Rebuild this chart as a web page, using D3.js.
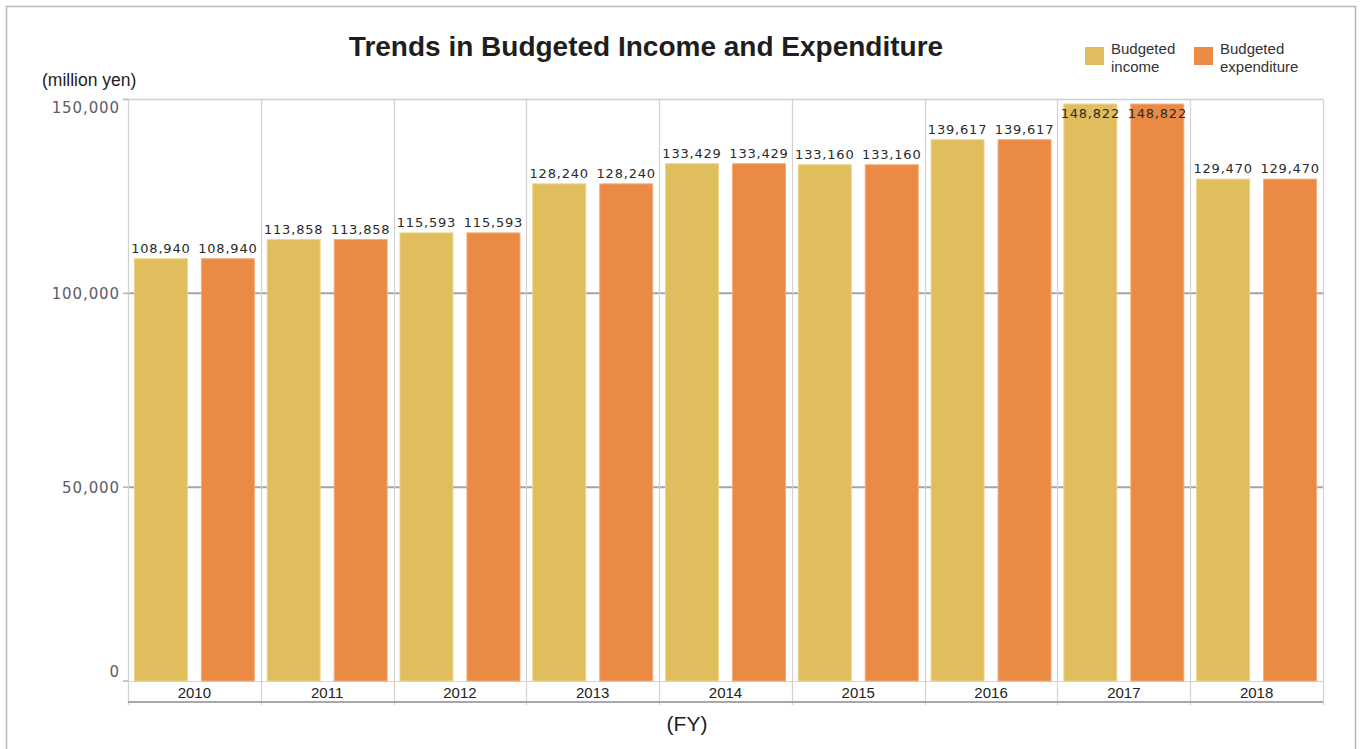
<!DOCTYPE html>
<html>
<head>
<meta charset="utf-8">
<script src="https://cdn.jsdelivr.net/npm/d3@7"></script>
<style>
  body { margin: 0; background: #fff; }
  svg { display: block; }
</style>
</head>
<body>
<div id="chart"></div>
<script>
// === Chart data ===
const years = ["2010", "2011", "2012", "2013", "2014", "2015", "2016", "2017", "2018"];
const income = [108940, 113858, 115593, 128240, 133429, 133160, 139617, 148822, 129470];
const expenditure = [108940, 113858, 115593, 128240, 133429, 133160, 139617, 148822, 129470];
const yTicks = [0, 50000, 100000, 150000];
const seriesNames = ["Budgeted income", "Budgeted expenditure"];

const COLOR_INCOME = "#E0BD5D";
const COLOR_EXPEND = "#EB8A45";

const W = 1360, H = 749;
const plot = { left: 128, right: 1323, top: 99.5, bottom: 681, axisBottom: 702 };

const svg = d3.select("#chart").append("svg")
    .attr("width", W).attr("height", H);

// Page frame
svg.append("rect")
    .attr("x", 6.5).attr("y", 6.5)
    .attr("width", 1349).attr("height", 800)
    .attr("fill", "none").attr("stroke", "#b8b8bc").attr("stroke-width", 1.5);

const x = d3.scaleBand().domain(years).range([plot.left, plot.right]).padding(0);
const xSub = d3.scaleBand().domain([0, 1]).range([0, x.bandwidth()])
    .paddingInner(0.194).paddingOuter(0.088);
const y = d3.scaleLinear().domain([0, 150000]).range([plot.bottom, plot.top]);

// Plot frame lines (top, bottom of bars)
svg.append("line")
    .attr("x1", plot.left).attr("x2", plot.right)
    .attr("y1", plot.top).attr("y2", plot.top)
    .attr("stroke", "#cfcfcf").attr("stroke-width", 1.5);
svg.append("line")
    .attr("x1", plot.left).attr("x2", plot.right)
    .attr("y1", plot.bottom + 0.5).attr("y2", plot.bottom + 0.5)
    .attr("stroke", "#d4d4d4").attr("stroke-width", 1);

// Horizontal gridlines
svg.append("g").selectAll("line")
    .data(yTicks.filter(d => d > 0 && d < 150000))
    .join("line")
    .attr("x1", plot.left).attr("x2", plot.right)
    .attr("y1", d => y(d)).attr("y2", d => y(d))
    .attr("stroke", "#a4a4a8").attr("stroke-width", 2);

// Vertical category separators
svg.append("g").selectAll("line")
    .data(years.concat(["end"]))
    .join("line")
    .attr("x1", (d, i) => Math.round(plot.left + i * x.step()) + 0.5)
    .attr("x2", (d, i) => Math.round(plot.left + i * x.step()) + 0.5)
    .attr("y1", plot.top).attr("y2", plot.axisBottom + 3)
    .attr("stroke", "#d2d2d2").attr("stroke-width", 1.2);

// Bottom axis line
svg.append("line")
    .attr("x1", plot.left).attr("x2", plot.right)
    .attr("y1", plot.axisBottom).attr("y2", plot.axisBottom)
    .attr("stroke", "#a8a8ac").attr("stroke-width", 2);

// Y tick marks and labels
const yAxis = svg.append("g");
yAxis.selectAll("line")
    .data(yTicks)
    .join("line")
    .attr("x1", plot.left - 5).attr("x2", plot.left)
    .attr("y1", d => y(d)).attr("y2", d => y(d))
    .attr("stroke", "#b4b4b4").attr("stroke-width", 1.5);
yAxis.selectAll("text")
    .data(yTicks)
    .join("text")
    .attr("x", 120)
    .attr("y", d => Math.min(Math.max(y(d), 108), 672))
    .attr("dy", "0.36em")
    .attr("text-anchor", "end")
    .attr("font-family", "DejaVu Sans, Verdana, sans-serif")
    .attr("font-size", 15)
    .attr("letter-spacing", 0.9)
    .attr("fill", "#5c5d66")
    .text(d => d3.format(",")(d));

// Bars
const rows = years.map((yr, i) => ({ year: yr, values: [income[i], expenditure[i]] }));
const colors = [COLOR_INCOME, COLOR_EXPEND];
const strokes = ["#ECD58F", "#F2AD7A"];

const groups = svg.append("g").selectAll("g")
    .data(rows)
    .join("g")
    .attr("transform", d => `translate(${x(d.year)},0)`);

groups.selectAll("rect")
    .data(d => d.values.map((v, k) => ({ v, k })))
    .join("rect")
    .attr("x", d => xSub(d.k) + 0.5)
    .attr("y", d => y(d.v))
    .attr("width", xSub.bandwidth() - 1)
    .attr("height", d => y(0) - y(d.v))
    .attr("fill", d => colors[d.k])
    .attr("stroke", d => strokes[d.k])
    .attr("stroke-width", 1);

// Value labels (pushed inside when the bar reaches the top)
groups.selectAll("text")
    .data(d => d.values.map((v, k) => ({ v, k })))
    .join("text")
    .attr("x", d => xSub(d.k) + xSub.bandwidth() / 2)
    .attr("y", d => Math.max(y(d.v) - 6, plot.top + 18))
    .attr("text-anchor", "middle")
    .attr("font-family", "DejaVu Sans, Verdana, sans-serif")
    .attr("font-size", 13)
    .attr("letter-spacing", 0.8)
    .attr("fill", "#2a2a2a")
    .text(d => d3.format(",")(d.v));

// Category labels
svg.append("g").selectAll("text")
    .data(years)
    .join("text")
    .attr("x", d => x(d) + x.bandwidth() / 2)
    .attr("y", 698)
    .attr("text-anchor", "middle")
    .attr("font-family", "Liberation Sans, Arial, sans-serif")
    .attr("font-size", 15)
    .attr("fill", "#222")
    .text(d => d);

// Title and axis captions
svg.append("text")
    .attr("x", 646).attr("y", 56)
    .attr("text-anchor", "middle")
    .attr("font-family", "Liberation Sans, Arial, sans-serif")
    .attr("font-size", 28)
    .attr("font-weight", "bold")
    .attr("fill", "#1e1e1e")
    .text("Trends in Budgeted Income and Expenditure");

svg.append("text")
    .attr("x", 42).attr("y", 86)
    .attr("font-family", "Liberation Sans, Arial, sans-serif")
    .attr("font-size", 17.5)
    .attr("fill", "#222")
    .text("(million yen)");

svg.append("text")
    .attr("x", 687).attr("y", 731)
    .attr("text-anchor", "middle")
    .attr("font-family", "Liberation Sans, Arial, sans-serif")
    .attr("font-size", 21)
    .attr("fill", "#222")
    .text("(FY)");

// Legend
const legendX = [1085, 1194];
const legend = svg.append("g").selectAll("g")
    .data(seriesNames)
    .join("g")
    .attr("transform", (d, i) => `translate(${legendX[i]},47)`);
legend.append("rect")
    .attr("width", 19).attr("height", 18)
    .attr("fill", (d, i) => colors[i]);
legend.append("text")
    .attr("x", 26).attr("y", 7)
    .attr("font-family", "Liberation Sans, Arial, sans-serif")
    .attr("font-size", 15)
    .attr("fill", "#333")
    .selectAll("tspan")
    .data(d => { const p = d.split(" "); return [p[0], p.slice(1).join(" ")]; })
    .join("tspan")
    .attr("x", 26)
    .attr("dy", (d, i) => i === 0 ? 0 : 17.5)
    .text(d => d);
</script>
</body>
</html>
